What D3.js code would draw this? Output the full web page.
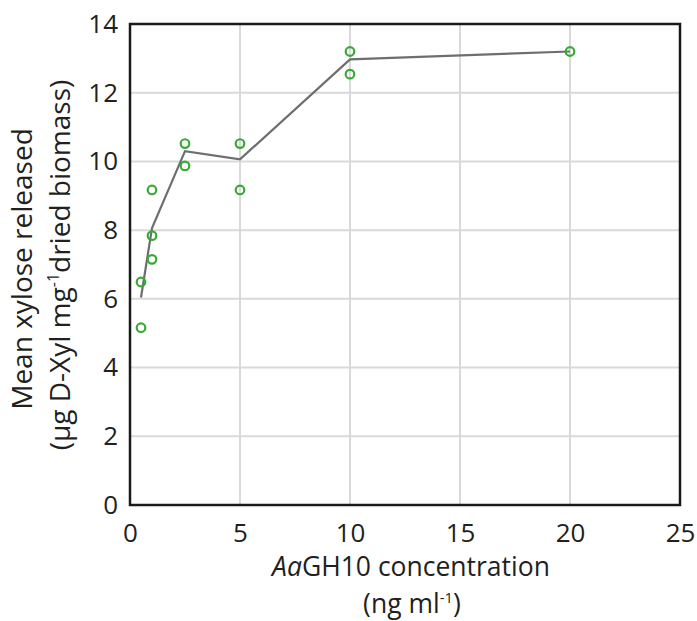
<!DOCTYPE html>
<html>
<head>
<meta charset="utf-8">
<script src="https://cdn.jsdelivr.net/npm/d3@7"></script>
<style>
  body { margin: 0; background: #fff; }
  text { font-family: "Open Sans", "DejaVu Sans", sans-serif; fill: #231f20; }
</style>
</head>
<body>
<svg id="chart" width="697" height="621"></svg>
<script>
'use strict';

// replicate measurements
const repX = [0.5, 0.5, 1, 1, 1, 2.5, 2.5, 5, 5, 10, 10, 20];
const repY = [6.49, 5.16, 7.15, 7.84, 9.17, 10.52, 9.87, 10.52, 9.17, 13.2, 12.54, 13.2];

// mean line
const meanX = [0.5, 1, 2.5, 5, 10, 20];
const meanY = [6.04, 8.06, 10.3, 10.06, 12.97, 13.2];

const xTicks = [0, 5, 10, 15, 20, 25];
const yTicks = [0, 2, 4, 6, 8, 10, 12, 14];

function Main() {
  const svg = d3.select('#chart');
  const left = 130, right = 680, top = 24, bottom = 505;
  const tickFont = 26, titleFont = 28;

  const x = d3.scaleLinear().domain([0, 25]).range([left, right]);
  const y = d3.scaleLinear().domain([0, 14]).range([bottom, top]);

  // grid
  svg.append('g').selectAll('line')
      .data(xTicks.slice(1, -1))
    .enter().append('line')
      .attr('x1', d => x(d)).attr('x2', d => x(d))
      .attr('y1', top).attr('y2', bottom)
      .attr('stroke', '#d9d9d9').attr('stroke-width', 2);
  svg.append('g').selectAll('line')
      .data(yTicks.slice(1, -1))
    .enter().append('line')
      .attr('x1', left).attr('x2', right)
      .attr('y1', d => y(d)).attr('y2', d => y(d))
      .attr('stroke', '#d9d9d9').attr('stroke-width', 2);

  // axes (labels only)
  const xAxis = svg.append('g')
      .attr('transform', 'translate(0,' + bottom + ')')
      .call(d3.axisBottom(x).tickValues(xTicks).tickSize(0));
  const yAxis = svg.append('g')
      .attr('transform', 'translate(' + left + ',0)')
      .call(d3.axisLeft(y).tickValues(yTicks).tickSize(0).tickPadding(12));
  [xAxis, yAxis].forEach(function(a) {
    a.select('.domain').remove();
    a.selectAll('text').attr('font-size', tickFont)
      .style('font-family', '"Open Sans", sans-serif').attr('fill', '#231f20');
  });
  xAxis.selectAll('text').attr('y', 37).attr('dy', 0);

  // frame
  svg.append('rect')
      .attr('x', left).attr('y', top)
      .attr('width', right - left).attr('height', bottom - top)
      .attr('fill', 'none').attr('stroke', '#1a1a1a').attr('stroke-width', 2.5);

  // mean line
  const line = d3.line()
      .x((d, i) => x(meanX[i]))
      .y(d => y(d));
  svg.append('path')
      .datum(meanY)
      .attr('d', line)
      .attr('fill', 'none')
      .attr('stroke', '#6d6e71')
      .attr('stroke-width', 2.2);

  // replicate points
  svg.append('g').selectAll('circle')
      .data(repY)
    .enter().append('circle')
      .attr('cx', (d, i) => x(repX[i]))
      .attr('cy', d => y(d))
      .attr('r', 4.3)
      .attr('fill', 'none')
      .attr('stroke', '#39a935')
      .attr('stroke-width', 2.2);

  // x title
  const xFont = 26.5;
  const xt = svg.append('text')
      .attr('x', 411).attr('y', 576)
      .attr('text-anchor', 'middle').attr('font-size', xFont);
  xt.append('tspan').attr('font-style', 'italic').text('Aa');
  xt.append('tspan').text('GH10 concentration');

  const xt2 = svg.append('text')
      .attr('x', 412).attr('y', 613)
      .attr('text-anchor', 'middle').attr('font-size', xFont);
  xt2.append('tspan').text('(ng ml');
  xt2.append('tspan').attr('font-size', 15).attr('dy', -10).text('-1');
  xt2.append('tspan').attr('dy', 10).text(')');

  // y title
  svg.append('text')
      .attr('transform', 'translate(32,269) rotate(-90)')
      .attr('text-anchor', 'middle').attr('font-size', titleFont)
      .text('Mean xylose released');

  const yt2 = svg.append('text')
      .attr('transform', 'translate(70,265) rotate(-90)')
      .attr('text-anchor', 'middle').attr('font-size', titleFont);
  yt2.append('tspan').text('(\u00b5g D-Xyl mg');
  yt2.append('tspan').attr('font-size', 16).attr('dy', -11).text('-1');
  yt2.append('tspan').attr('dy', 11).text('dried biomass)');
}

Main();
</script>
</body>
</html>
